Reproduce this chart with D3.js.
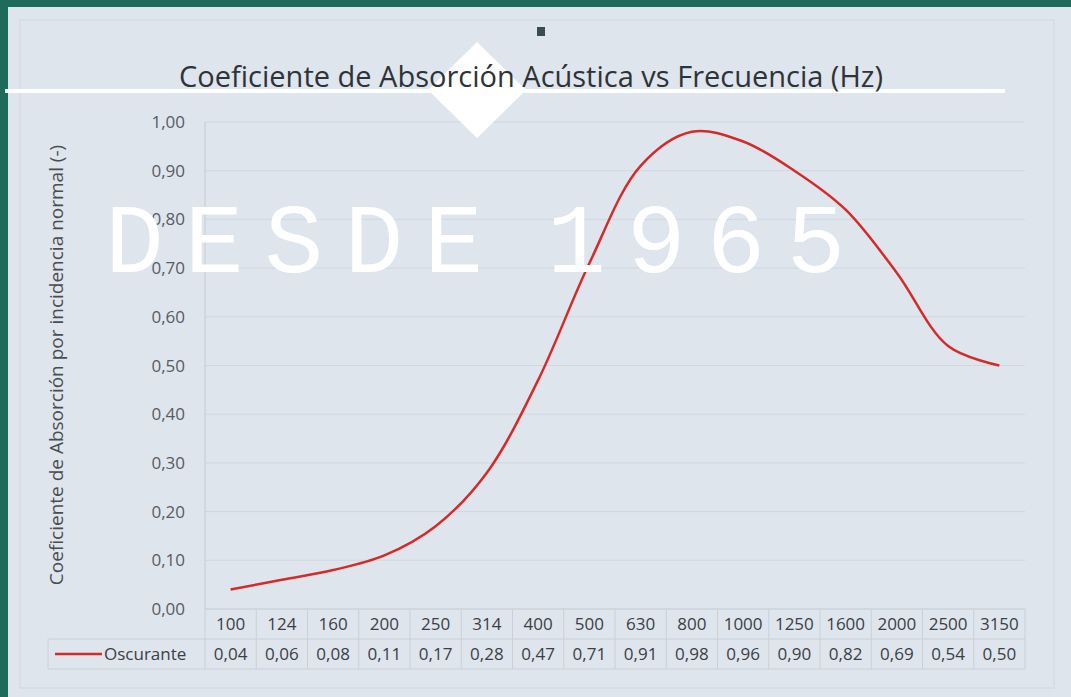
<!DOCTYPE html>
<html lang="es">
<head>
<meta charset="UTF-8">
<title>Coeficiente de Absorción Acústica vs Frecuencia</title>
<script src="https://d3js.org/d3.v7.min.js"></script>
<style>
  html, body { margin: 0; padding: 0; background: #1e6a5b; }
  svg { display: block; }
  .tick-label { font-family: "Open Sans", sans-serif; font-size: 17px; fill: #565c63; }
  .cell { font-family: "Open Sans", sans-serif; font-size: 17px; fill: #3a4046; }
</style>
</head>
<body>
<div id="chart"></div>
<script>
  const width = 1071;
  const height = 697;

  // data
  const frequencies = ["100", "124", "160", "200", "250", "314", "400", "500", "630", "800", "1000", "1250", "1600", "2000", "2500", "3150"];
  const oscurante = [0.04, 0.06, 0.08, 0.11, 0.17, 0.28, 0.47, 0.71, 0.91, 0.98, 0.96, 0.90, 0.82, 0.69, 0.54, 0.50];
  const yTicks = [0, 0.1, 0.2, 0.3, 0.4, 0.5, 0.6, 0.7, 0.8, 0.9, 1.0];
  const seriesName = "Oscurante";

  const plot = { left: 205, right: 1025, top: 122, bottom: 609 };
  const rowH = 30;

  const svg = d3.select("#chart")
    .append("svg")
    .attr("width", width)
    .attr("height", height);

  // page background
  svg.append("rect")
    .attr("x", 0).attr("y", 0)
    .attr("width", width).attr("height", height)
    .attr("fill", "#1e6a5b");

  svg.append("rect")
    .attr("x", 8).attr("y", 7)
    .attr("width", width - 8).attr("height", height - 7)
    .attr("fill", "#dfe5ec");

  // faint frame of the chart area
  svg.append("rect")
    .attr("x", 20).attr("y", 20)
    .attr("width", 1034).attr("height", 668)
    .attr("fill", "none")
    .attr("stroke", "#d5dce4")
    .attr("stroke-width", 1.5);

  const x = d3.scaleBand()
    .domain(frequencies)
    .range([plot.left, plot.right]);

  const y = d3.scaleLinear()
    .domain([0, 1])
    .range([plot.bottom, plot.top]);

  const fmt = v => d3.format(".2f")(v).replace(".", ",");

  // gridlines
  svg.append("g")
    .selectAll("line")
    .data(yTicks)
    .enter()
    .append("line")
    .attr("x1", plot.left)
    .attr("x2", plot.right)
    .attr("y1", d => y(d))
    .attr("y2", d => y(d))
    .attr("stroke", "#d0d7df")
    .attr("stroke-width", 1);

  // y axis line
  svg.append("line")
    .attr("x1", plot.left).attr("x2", plot.left)
    .attr("y1", plot.top).attr("y2", plot.bottom)
    .attr("stroke", "#c4cbd3");

  // y tick labels
  svg.append("g")
    .selectAll("text")
    .data(yTicks)
    .enter()
    .append("text")
    .attr("class", "tick-label")
    .attr("x", 185)
    .attr("y", d => y(d) + 6)
    .attr("text-anchor", "end")
    .text(d => fmt(d));

  // y axis title
  svg.append("text")
    .attr("transform", "translate(63,365) rotate(-90)")
    .attr("text-anchor", "middle")
    .style("font-family", "'Open Sans', sans-serif")
    .style("font-size", "19px")
    .style("fill", "#474d53")
    .text("Coeficiente de Absorción por incidencia normal (-)");

  // data table below the plot
  const table = svg.append("g");
  const tTop = plot.bottom;
  const lineColor = "#c9d0d8";

  table.append("line")
    .attr("x1", plot.left).attr("x2", plot.right)
    .attr("y1", tTop).attr("y2", tTop)
    .attr("stroke", lineColor);
  table.append("line")
    .attr("x1", 48).attr("x2", plot.right)
    .attr("y1", tTop + rowH).attr("y2", tTop + rowH)
    .attr("stroke", lineColor);
  table.append("line")
    .attr("x1", 48).attr("x2", plot.right)
    .attr("y1", tTop + rowH * 2).attr("y2", tTop + rowH * 2)
    .attr("stroke", lineColor);
  table.append("line")
    .attr("x1", 48).attr("x2", 48)
    .attr("y1", tTop + rowH).attr("y2", tTop + rowH * 2)
    .attr("stroke", lineColor);

  table.selectAll(".vline")
    .data(frequencies.concat(["end"]))
    .enter()
    .append("line")
    .attr("class", "vline")
    .attr("x1", (d, i) => plot.left + i * x.bandwidth())
    .attr("x2", (d, i) => plot.left + i * x.bandwidth())
    .attr("y1", tTop)
    .attr("y2", tTop + rowH * 2)
    .attr("stroke", lineColor);

  table.selectAll(".freq")
    .data(frequencies)
    .enter()
    .append("text")
    .attr("class", "cell")
    .attr("x", d => x(d) + x.bandwidth() / 2)
    .attr("y", tTop + 21)
    .attr("text-anchor", "middle")
    .text(d => d);

  table.selectAll(".val")
    .data(oscurante)
    .enter()
    .append("text")
    .attr("class", "cell")
    .attr("x", (d, i) => x(frequencies[i]) + x.bandwidth() / 2)
    .attr("y", tTop + rowH + 21)
    .attr("text-anchor", "middle")
    .text(d => fmt(d));

  // legend key in the table
  table.append("line")
    .attr("x1", 55).attr("x2", 102)
    .attr("y1", tTop + rowH + 15).attr("y2", tTop + rowH + 15)
    .attr("stroke", "#d42a2a")
    .attr("stroke-width", 2.5);
  table.append("text")
    .attr("class", "cell")
    .attr("x", 104)
    .attr("y", tTop + rowH + 21)
    .text(seriesName);

  // overlay line, diamond and marker behind the title
  svg.append("rect")
    .attr("x", 5).attr("y", 89)
    .attr("width", 1000).attr("height", 4)
    .attr("fill", "#ffffff");

  svg.append("path")
    .attr("d", "M477,42 L526,90 L477,138 L428,90 Z")
    .attr("fill", "#ffffff");

  svg.append("rect")
    .attr("x", 537).attr("y", 27)
    .attr("width", 8).attr("height", 9)
    .attr("fill", "#3c4a52");

  svg.append("text")
    .attr("x", 531)
    .attr("y", 87)
    .attr("text-anchor", "middle")
    .style("font-family", "'Open Sans', sans-serif")
    .style("font-size", "29px")
    .style("fill", "#2e3338")
    .text("Coeficiente de Absorción Acústica vs Frecuencia (Hz)");

  // series line
  const line = d3.line()
    .x((d, i) => x(frequencies[i]) + x.bandwidth() / 2)
    .y(d => y(d))
    .curve(d3.curveCatmullRom.alpha(0.5));

  svg.append("path")
    .datum(oscurante)
    .attr("d", line)
    .attr("fill", "none")
    .attr("stroke", "#d42a2a")
    .attr("stroke-width", 2.5);

  // watermark overlay
  const mark = svg.append("g")
    .style("font-family", "'Liberation Mono', monospace")
    .style("font-size", "98px")
    .style("letter-spacing", "21px")
    .style("fill", "#ffffff");

  mark.append("text")
    .attr("x", 105)
    .attr("y", 272)
    .text("DESDE");

  mark.append("text")
    .attr("x", 547)
    .attr("y", 272)
    .text("1965");
</script>
</body>
</html>
